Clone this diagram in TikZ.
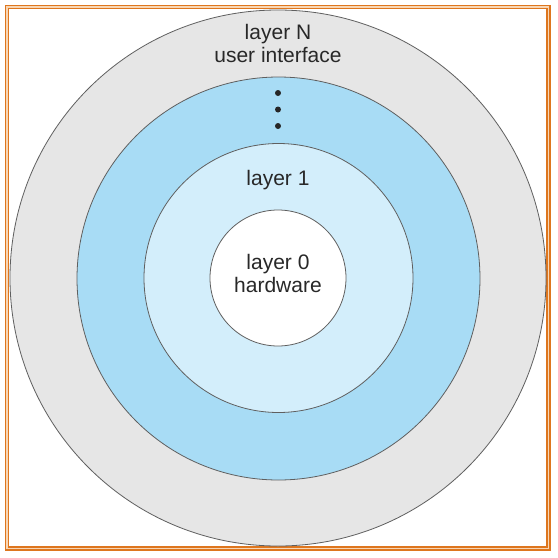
\documentclass[tikz,border=0pt]{standalone}
\usepackage{fontspec}
\setmainfont{Liberation Sans}
\definecolor{framec}{RGB}{222,118,30}
\definecolor{framel}{RGB}{248,214,180}
\definecolor{outerg}{RGB}{230,230,230}
\definecolor{blued}{RGB}{168,220,245}
\definecolor{bluel}{RGB}{211,238,251}
\definecolor{edgec}{RGB}{95,95,95}
\definecolor{txtc}{RGB}{40,40,40}
\begin{document}
\begin{tikzpicture}[x=1pt,y=-1pt,
  ring/.style={circle,draw=edgec,line width=0.8pt,inner sep=0pt},
  lbl/.style={anchor=base,inner sep=0pt,text=txtc,font=\fontsize{21}{24}\selectfont},
  dotc/.style={circle,fill=black!85,inner sep=0pt,minimum size=6pt}]
\useasboundingbox (0,0) rectangle (558,558);
\fill[white] (0,0) rectangle (558,558);
% frame
\draw[framel,line width=3pt] (7,7) rectangle (548.5,548.5);
\draw[framec,line width=1.4pt] (5.5,5.5) rectangle (550,550);
\draw[framec,line width=1.2pt] (8.6,8.6) rectangle (547,547);
% rings
\node[ring,fill=outerg,minimum size=536pt] (ringN) at (278,278) {};
\node[ring,fill=blued,minimum size=403pt] (ringD) at (278.5,278.5) {};
\node[ring,fill=bluel,minimum size=269pt] (ring1) at (278.5,278) {};
\node[ring,fill=white,minimum size=136pt] (ring0) at (278,278) {};
% labels
\node[lbl] (tN) at (278,39) {layer N};
\node[lbl] (tUI) at (278,62) {user interface};
\node[dotc] (d1) at (278,93) {};
\node[dotc] (d2) at (278,109.5) {};
\node[dotc] (d3) at (278,126) {};
\node[lbl] (t1) at (278,185) {layer 1};
\node[lbl] (t0) at (278,269) {layer 0};
\node[lbl] (thw) at (278,292) {hardware};
\end{tikzpicture}
\end{document}
